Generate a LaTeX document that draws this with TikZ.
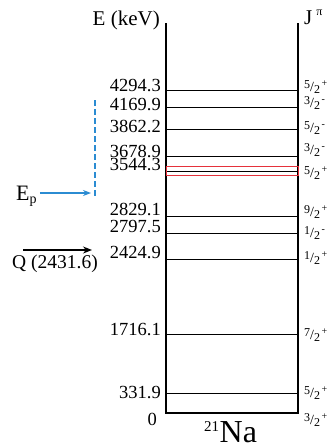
\documentclass[tikz,border=0pt]{standalone}
\usepackage{fontspec}
\setmainfont{Liberation Serif}
\usetikzlibrary{arrows.meta,positioning}
\definecolor{epblue}{HTML}{2B8CD2}
\definecolor{resred}{HTML}{E5323B}
\tikzset{
  frame/.style={line width=1.3pt},
  lvl/.style={line width=0.9pt},
  elab/.style={anchor=base east,inner sep=0pt,font=\fontsize{18.5}{18.5}\selectfont},
  jlab/.style={anchor=west,inner sep=0pt,font=\fontsize{12}{12}\selectfont},
  epline/.style={epblue,line width=2.6pt,dash pattern=on 6pt off 3pt},
  eparrow/.style={-{Stealth[length=8pt,width=6pt]},epblue,line width=1.2pt},
  qarrow/.style={-{Stealth[length=9pt,width=7pt]},line width=1.4pt}
}
\newcommand{\spin}[3]{\raisebox{3.5pt}{#1}{\fontsize{14}{14}\selectfont/}\raisebox{-1.5pt}{#2}\kern1.5pt\raisebox{5pt}{\fontsize{10}{10}\selectfont#3}}
\begin{document}
\begin{tikzpicture}[x=1pt,y=-1pt]
\useasboundingbox (0,0) rectangle (330,448);
% frame of the level scheme
\coordinate (tl) at (166,23); \coordinate (bl) at (166,413);
\coordinate (tr) at (298,23); \coordinate (br) at (298,413);
\draw[frame] (tl) -- (bl) -- (br) -- (tr);
% levels: line y / energy / label baseline / spin / spin centre
\foreach \y/\en/\yb/\ja/\jb/\jp/\yj [count=\i] in {
  90/4294.3/91/5/2/+/87, 107/4169.9/110/3/2/-/103, 129/3862.2/132/5/2/-/128,
  156/3678.9/157/3/2/-/150, 171/3544.3/170/5/2/+/173, 216/2829.1/215/9/2/+/212,
  233/2797.5/232/1/2/-/233, 259/2424.9/258/1/2/+/258, 334/1716.1/335/7/2/+/335,
  393/331.9/398/5/2/+/393}{
  \coordinate (L\i) at (166,\y); \coordinate (R\i) at (298,\y);
  \draw[lvl] (L\i) -- (R\i);
  \node[elab] (e\i) at (161,\yb) {\en};
  \node[jlab] (j\i) at (304,\yj) {\spin{\ja}{\jb}{\jp}};
}
\node[elab] (e0) at (157,425) {0};
\node[jlab] (j0) at (304,420) {\spin{3}{2}{+}};
% resonance
\draw[resred,line width=1pt] (166,166) rectangle (298,175);
% headers
\node[anchor=base east,inner sep=0pt,font=\fontsize{21}{21}\selectfont] (eh) at (160,25) {E (keV)};
\node[anchor=base west,inner sep=0pt,font=\fontsize{21}{21}\selectfont] (jh) at (304,24)
  {J\kern4pt\raisebox{0.42em}{\fontsize{12}{12}\selectfont π}};
\node[anchor=base west,inner sep=0pt,font=\fontsize{32}{32}\selectfont] (nuc) at (204,442)
  {\raisebox{11pt}{\fontsize{15}{15}\selectfont 21}\kern0.5pt Na};
% proton energy range
\coordinate (ept) at (95,100); \coordinate (epb) at (95,198);
\draw[epline] (ept) -- (epb);
\node[anchor=base west,inner sep=0pt,font=\fontsize{22}{22}\selectfont] (ep) at (16,200)
  {E\raisebox{-3pt}{\fontsize{14}{14}\selectfont p}};
\coordinate (epa) at (91,193);
\draw[eparrow] (ep.east |- epa) ++(3,0) -- (epa);
% Q value
\coordinate (qs) at (23,250); \coordinate (qe) at (92,250);
\draw[qarrow] (qs) -- (qe);
\node[anchor=base,inner sep=0pt,font=\fontsize{19.5}{19.5}\selectfont] (q) at (55,268) {Q (2431.6)};
\end{tikzpicture}
\end{document}
